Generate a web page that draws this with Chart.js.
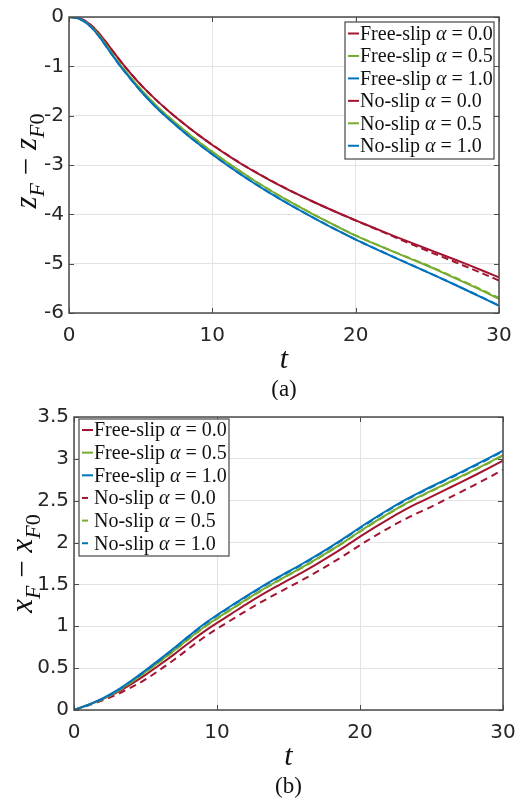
<!DOCTYPE html>
<html><head><meta charset="utf-8">
<script src="https://cdn.jsdelivr.net/npm/chart.js@4/dist/chart.umd.min.js"></script>
<style>
html,body{margin:0;padding:0;background:#fff;}
#wrap{position:relative;width:529px;height:801px;overflow:hidden;}
#ca{position:absolute;left:0;top:0;}
#cb{position:absolute;left:0;top:400px;}
</style></head><body>
<div id="wrap"><canvas id="ca" width="529" height="400"></canvas><canvas id="cb" width="529" height="401"></canvas></div>
<script>
// ---------- data (a): vertical displacement ----------
const tA = [0,0.5,1,1.5,2,2.5,3,3.5,4,5,6,7,8,9,10,11,12,13,14,15,16,17,18,19,20,21,22,23,24,25,26,27,28,29,30];
const zFree00 = [0,-0.01,-0.06,-0.16,-0.30,-0.48,-0.67,-0.86,-1.04,-1.37,-1.66,-1.92,-2.16,-2.385,-2.595,-2.79,-2.975,-3.145,-3.305,-3.457,-3.602,-3.74,-3.872,-3.999,-4.122,-4.242,-4.36,-4.476,-4.59,-4.702,-4.813,-4.926,-5.041,-5.158,-5.276];
const zFree05 = [0,-0.013,-0.074,-0.183,-0.335,-0.53,-0.74,-0.94,-1.125,-1.465,-1.772,-2.039,-2.287,-2.518,-2.735,-2.943,-3.141,-3.329,-3.507,-3.677,-3.838,-3.994,-4.145,-4.291,-4.432,-4.558,-4.681,-4.802,-4.922,-5.042,-5.17,-5.302,-5.436,-5.573,-5.713];
const zFree10 = [0,-0.015,-0.08,-0.195,-0.355,-0.555,-0.765,-0.965,-1.15,-1.5,-1.81,-2.08,-2.33,-2.565,-2.785,-2.995,-3.195,-3.385,-3.565,-3.737,-3.902,-4.062,-4.217,-4.367,-4.512,-4.648,-4.781,-4.912,-5.042,-5.172,-5.304,-5.438,-5.574,-5.712,-5.853];
const zNo00 = [0,-0.01,-0.06,-0.16,-0.30,-0.48,-0.67,-0.86,-1.04,-1.37,-1.66,-1.92,-2.16,-2.385,-2.59,-2.785,-2.97,-3.14,-3.30,-3.455,-3.60,-3.74,-3.872,-4.0,-4.125,-4.247,-4.37,-4.496,-4.62,-4.742,-4.858,-4.976,-5.096,-5.218,-5.341];
const zNo05 = [0,-0.013,-0.074,-0.183,-0.335,-0.53,-0.74,-0.94,-1.125,-1.465,-1.772,-2.037,-2.285,-2.516,-2.733,-2.942,-3.14,-3.328,-3.506,-3.675,-3.836,-3.992,-4.142,-4.288,-4.428,-4.555,-4.678,-4.797,-4.915,-5.033,-5.16,-5.29,-5.422,-5.557,-5.695];
const zNo10 = [0,-0.015,-0.08,-0.195,-0.355,-0.555,-0.765,-0.965,-1.15,-1.498,-1.808,-2.078,-2.328,-2.563,-2.783,-2.993,-3.193,-3.383,-3.563,-3.735,-3.9,-4.06,-4.215,-4.365,-4.51,-4.646,-4.779,-4.91,-5.04,-5.17,-5.302,-5.436,-5.572,-5.71,-5.85];

// ---------- data (b): horizontal displacement ----------
const tB = [0,1,2,3,4,5,6,7,8,9,10,11,12,13,14,15,16,17,18,19,20,21,22,23,24,25,26,27,28,29,30];
const xFree00 = [0,0.061,0.13,0.21,0.31,0.42,0.54,0.665,0.797,0.925,1.04,1.149,1.258,1.362,1.461,1.555,1.648,1.746,1.849,1.957,2.07,2.178,2.281,2.379,2.467,2.55,2.633,2.716,2.801,2.889,2.979];
const xFree05 = [0,0.061,0.132,0.223,0.334,0.455,0.581,0.712,0.848,0.979,1.095,1.205,1.315,1.42,1.52,1.615,1.709,1.808,1.912,2.021,2.135,2.244,2.348,2.447,2.536,2.62,2.702,2.784,2.868,2.955,3.044];
const xFree10 = [0,0.065,0.14,0.235,0.35,0.475,0.605,0.74,0.88,1.015,1.135,1.245,1.355,1.46,1.56,1.655,1.75,1.85,1.955,2.065,2.18,2.29,2.395,2.495,2.585,2.67,2.753,2.836,2.921,3.009,3.099];
const xNo00 = [0,0.055,0.115,0.185,0.27,0.365,0.48,0.60,0.73,0.857,0.97,1.075,1.18,1.28,1.375,1.465,1.556,1.652,1.753,1.859,1.97,2.074,2.173,2.267,2.351,2.43,2.515,2.6,2.687,2.777,2.869];
const xNo05 = [0,0.057,0.127,0.218,0.329,0.45,0.576,0.707,0.843,0.974,1.09,1.2,1.31,1.415,1.515,1.61,1.704,1.803,1.907,2.016,2.13,2.239,2.343,2.442,2.531,2.615,2.697,2.779,2.863,2.95,3.039];
const xNo10 = [0,0.059,0.133,0.228,0.343,0.468,0.598,0.733,0.873,1.008,1.128,1.238,1.348,1.453,1.553,1.648,1.743,1.843,1.948,2.058,2.172,2.282,2.387,2.487,2.577,2.662,2.745,2.828,2.913,3.001,3.091];

// ---------- labels ----------
const seriesLabels = ['Free-slip α = 0.0','Free-slip α = 0.5','Free-slip α = 1.0','No-slip α = 0.0','No-slip α = 0.5','No-slip α = 1.0'];
const tTicks = [0,10,20,30];
const tTickLabels = ['0','10','20','30'];
const zTicks = [0,-1,-2,-3,-4,-5,-6];
const zTickLabels = ['0','-1','-2','-3','-4','-5','-6'];
const xTicks = [0,0.5,1,1.5,2,2.5,3,3.5];
const xTickLabels = ['0','0.5','1','1.5','2','2.5','3','3.5'];
const xAxisTitle = 't';
const captionA = '(a)';
const captionB = '(b)';

// ---------- styling ----------
const RED = '#A2142F', GREEN = '#77AC30', BLUE = '#0072BD';
const colors = [RED, GREEN, BLUE, RED, GREEN, BLUE];
const SERIF = '"Liberation Serif", "DejaVu Serif", serif';
const SANS = '"DejaVu Sans", sans-serif';

function makeDatasets(t, arrs, dash) {
  return arrs.map((arr, i) => ({
    label: seriesLabels[i],
    data: t.map((tv, j) => ({x: tv, y: arr[j]})),
    borderColor: colors[i],
    backgroundColor: colors[i],
    borderWidth: 2,
    borderDash: i >= 3 ? dash : [],
    pointRadius: 0,
    cubicInterpolationMode: 'monotone',
    fill: false,
    order: 5 - i
  }));
}

function lookup(ticks, labels) {
  return v => { const k = ticks.findIndex(q => Math.abs(q - v) < 1e-9); return k >= 0 ? labels[k] : ''; };
}

function drawYTitle(ctx, cx, cy, sym, big, small) {
  const pieces = [
    {t: sym, f: 'italic ' + big + 'px ' + SERIF, dy: 0},
    {t: 'F', f: 'italic ' + small + 'px ' + SERIF, dy: small * 0.33},
    {t: '\u2005\u2212\u2005', f: big + 'px ' + SERIF, dy: 0},
    {t: sym, f: 'italic ' + big + 'px ' + SERIF, dy: 0},
    {t: 'F', f: 'italic ' + small + 'px ' + SERIF, dy: small * 0.33},
    {t: '0', f: small + 'px ' + SERIF, dy: small * 0.33}
  ];
  ctx.save();
  ctx.translate(cx, cy);
  ctx.rotate(-Math.PI / 2);
  ctx.fillStyle = '#111';
  ctx.textBaseline = 'alphabetic';
  ctx.textAlign = 'left';
  let total = 0;
  pieces.forEach(p => { ctx.font = p.f; p.w = ctx.measureText(p.t).width; total += p.w; });
  let x = -total / 2;
  pieces.forEach(p => { ctx.font = p.f; ctx.fillText(p.t, x, big * 0.3 + p.dy); x += p.w; });
  ctx.restore();
}

function drawLegend(ctx, box, rowY0, step, sampleDash, fontSize) {
  ctx.save();
  ctx.fillStyle = '#fff';
  ctx.fillRect(box.l, box.t, box.r - box.l, box.b - box.t);
  ctx.strokeStyle = '#555';
  ctx.lineWidth = 1.3;
  ctx.strokeRect(box.l, box.t, box.r - box.l, box.b - box.t);
  seriesLabels.forEach((lab, i) => {
    const y = rowY0 + i * step;
    ctx.strokeStyle = colors[i];
    ctx.lineWidth = 2;
    ctx.setLineDash(i >= 3 ? sampleDash : []);
    ctx.beginPath();
    ctx.moveTo(box.l + 3, y);
    ctx.lineTo(box.l + 14, y);
    ctx.stroke();
    ctx.setLineDash([]);
    const parts = lab.split('α');
    const segs = [
      {t: parts[0], f: fontSize + 'px ' + SERIF},
      {t: 'α', f: 'italic ' + fontSize + 'px ' + SERIF},
      {t: parts[1].replace(' = ', '\u2005=\u2005'), f: fontSize + 'px ' + SERIF}
    ];
    ctx.fillStyle = '#111';
    ctx.textBaseline = 'middle';
    ctx.textAlign = 'left';
    let x = box.l + 15;
    segs.forEach(s => { ctx.font = s.f; ctx.fillText(s.t, x, y + 1); x += ctx.measureText(s.t).width; });
  });
  ctx.restore();
}

function framePlugin(o) {
  return {
    id: 'frame_' + o.id,
    afterDraw(chart) {
      const {ctx, chartArea: a, scales} = chart;
      ctx.save();
      ctx.strokeStyle = '#4a4a4a';
      ctx.lineWidth = 1;
      ctx.beginPath();
      scales.x.ticks.forEach(tk => {
        const px = Math.round(scales.x.getPixelForValue(tk.value)) + 0.5;
        ctx.moveTo(px, a.bottom); ctx.lineTo(px, a.bottom - 5);
        ctx.moveTo(px, a.top); ctx.lineTo(px, a.top + 5);
      });
      scales.y.ticks.forEach(tk => {
        const py = Math.round(scales.y.getPixelForValue(tk.value)) + 0.5;
        ctx.moveTo(a.left, py); ctx.lineTo(a.left + 5, py);
        ctx.moveTo(a.right, py); ctx.lineTo(a.right - 5, py);
      });
      ctx.stroke();
      ctx.lineWidth = 1.5;
      ctx.strokeRect(a.left, a.top, a.right - a.left, a.bottom - a.top);
      ctx.restore();

      drawLegend(ctx, o.legendBox, o.rowY0, o.rowStep, o.sampleDash, o.legendFont);

      ctx.save();
      ctx.fillStyle = '#111';
      ctx.textAlign = 'center';
      ctx.textBaseline = 'middle';
      const cx = (a.left + a.right) / 2;
      ctx.font = 'italic 30px ' + SERIF;
      ctx.fillText(xAxisTitle, cx, a.bottom + 47);
      ctx.font = '23px ' + SERIF;
      ctx.fillText(o.caption, cx, a.bottom + 77);
      ctx.restore();
      drawYTitle(ctx, o.yTitleX, (a.top + a.bottom) / 2 - o.yTitleShift, o.sym, 31, 22);
    }
  };
}

function makeChart(canvas, o) {
  return new Chart(canvas, {
    type: 'line',
    data: {datasets: makeDatasets(o.t, o.arrs, o.dash)},
    options: {
      responsive: false,
      animation: false,
      devicePixelRatio: 1,
      layout: {padding: {top: o.padTop, right: o.padRight, left: 0, bottom: 0}},
      plugins: {legend: {display: false}, tooltip: {enabled: false}, title: {display: false}},
      scales: {
        x: {
          type: 'linear', min: 0, max: 30,
          afterBuildTicks: s => { s.ticks = tTicks.map(v => ({value: v})); },
          afterFit: s => { s.height = o.xHeight; },
          ticks: {callback: lookup(tTicks, tTickLabels), font: {family: SANS, size: 20}, color: '#262626', padding: 11, maxRotation: 0, autoSkip: false},
          grid: {color: '#e3e3e3', lineWidth: 1, drawTicks: false},
          border: {display: false}
        },
        y: {
          type: 'linear', min: o.ymin, max: o.ymax,
          afterBuildTicks: s => { s.ticks = o.yTicks.map(v => ({value: v})); },
          afterFit: s => { s.width = o.yWidth; },
          ticks: {callback: lookup(o.yTicks, o.yLabels), font: {family: SANS, size: 20}, color: '#262626', padding: 5, autoSkip: false},
          grid: {color: '#e3e3e3', lineWidth: 1, drawTicks: false},
          border: {display: false}
        }
      }
    },
    plugins: [framePlugin(o)]
  });
}

makeChart(document.getElementById('ca'), {
  id: 'a', t: tA, arrs: [zFree00, zFree05, zFree10, zNo00, zNo05, zNo10], dash: [7, 4],
  ymin: -6, ymax: 0, yTicks: zTicks, yLabels: zTickLabels,
  padTop: 17, padRight: 30, yWidth: 69, xHeight: 87,
  legendBox: {l: 345, t: 22, r: 494, b: 159}, rowY0: 33.5, rowStep: 22.45, sampleDash: [], legendFont: 20,
  caption: captionA, sym: 'z', yTitleX: 27, yTitleShift: 4
});

makeChart(document.getElementById('cb'), {
  id: 'b', t: tB, arrs: [xFree00, xFree05, xFree10, xNo00, xNo05, xNo10], dash: [7, 5],
  ymin: 0, ymax: 3.5, yTicks: xTicks, yLabels: xTickLabels,
  padTop: 15, padRight: 26, yWidth: 74, xHeight: 91,
  legendBox: {l: 79, t: 19, r: 229, b: 156}, rowY0: 30, rowStep: 22.65, sampleDash: [6, 20], legendFont: 20,
  caption: captionB, sym: 'x', yTitleX: 23, yTitleShift: 0
});
</script>
</body></html>
